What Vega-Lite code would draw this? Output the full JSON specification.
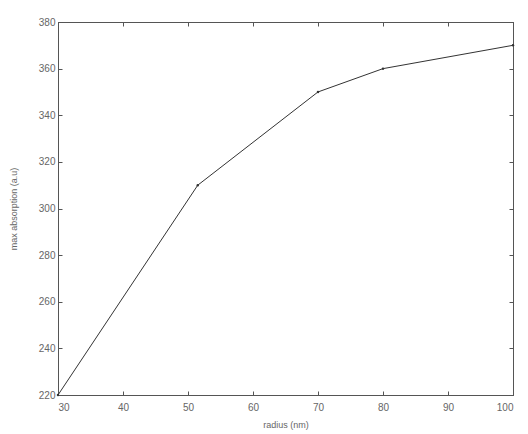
{
  "$schema": "https://vega.github.io/schema/vega-lite/v6.json",
  "autosize": {"type": "none"},
  "padding": {"left": 58, "top": 22, "right": 15, "bottom": 39},
  "width": 455,
  "height": 373,
  "background": "white",
  "config": {
    "view": {"stroke": "#555555", "strokeWidth": 1},
    "axis": {
      "labelFont": "Liberation Sans",
      "titleFont": "Liberation Sans",
      "labelFontSize": 10,
      "titleFontSize": 9,
      "titleFontWeight": "normal",
      "labelColor": "#666666",
      "titleColor": "#666666",
      "domainColor": "#555555",
      "tickColor": "#555555",
      "grid": false,
      "tickSize": -4,
      "labelPadding": 7
    }
  },
  "data": {
    "values": [
      {"radius": 30, "absorption": 220},
      {"radius": 51.5, "absorption": 310},
      {"radius": 70, "absorption": 350},
      {"radius": 80, "absorption": 360},
      {"radius": 100, "absorption": 370}
    ]
  },
  "layer": [
    {
      "mark": {"type": "line", "color": "#333333", "strokeWidth": 1, "point": {"filled": true, "size": 6, "color": "#333333"}},
      "encoding": {
        "x": {"field": "radius", "type": "quantitative", "scale": {"domain": [30, 100], "nice": false, "zero": false},
              "axis": {"title": "radius (nm)", "values": [30, 40, 50, 60, 70, 80, 90, 100], "labelPadding": 11, "titlePadding": 8}},
        "y": {"field": "absorption", "type": "quantitative", "scale": {"domain": [220, 380], "nice": false, "zero": false},
              "axis": {"title": "max absorption (a.u)", "values": [220, 240, 260, 280, 300, 320, 340, 360, 380], "titlePadding": 20}}
      }
    },
    {
      "mark": {"type": "point", "opacity": 0},
      "encoding": {
        "x": {"field": "radius", "type": "quantitative", "scale": {"domain": [30, 100], "nice": false, "zero": false},
              "axis": {"orient": "top", "title": null, "labels": false, "values": [30, 40, 50, 60, 70, 80, 90, 100]}},
        "y": {"field": "absorption", "type": "quantitative", "scale": {"domain": [220, 380], "nice": false, "zero": false},
              "axis": {"orient": "right", "title": null, "labels": false, "values": [220, 240, 260, 280, 300, 320, 340, 360, 380]}}
      }
    }
  ],
  "resolve": {"axis": {"x": "independent", "y": "independent"}}
}
